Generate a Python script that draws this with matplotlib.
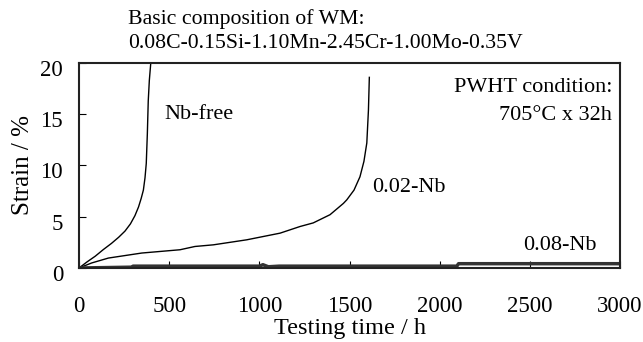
import numpy as np
import matplotlib.pyplot as plt
import matplotlib.transforms as mtransforms

# ----------------------------------------------------
# Creep curves of weld metal (WM)
# ----------------------------------------------------

plt.rcParams['font.family'] = ['Liberation Serif', 'DejaVu Serif']

# Nb-free
t_free = [0, 45, 90, 135, 180, 220, 255, 285, 310, 330, 345, 357, 366, 373,
          379, 384, 390, 398, 402]
s_free = [0, 0.6, 1.15, 1.8, 2.4, 3.0, 3.6, 4.3, 5.1, 5.95, 6.8, 7.6, 8.8,
          10.2, 13.1, 16.3, 18.3, 20.0, 21.0]

# 0.02-Nb
t_02 = [0, 70, 163, 348, 560, 643, 745, 930, 1115, 1226, 1299, 1392, 1466,
        1485, 1525, 1558, 1580, 1596, 1605, 1610]
s_02 = [0, 0.49, 0.97, 1.46, 1.78, 2.1, 2.26, 2.75, 3.4, 4.05, 4.4, 5.2,
        6.3, 6.65, 7.6, 8.9, 10.4, 12.2, 15.4, 18.6]

# 0.08-Nb
t_08 = [0, 290, 300, 1000, 1020, 1050, 1110, 2095, 2105, 3000]
s_08 = [0, 0.08, 0.18, 0.18, 0.32, 0.12, 0.18, 0.18, 0.42, 0.42]

# ----------------------------------------------------
# Plot
# ----------------------------------------------------

fig = plt.figure(figsize=(6.43, 3.42), dpi=100)
ax = fig.add_axes([79 / 643, 74 / 342, 541 / 643, 205 / 342])

ax.plot(t_free, s_free, color="black", linewidth=1.0)
ax.plot(t_02, s_02, color="black", linewidth=1.0)
ax.plot(t_08, s_08, color="#333333", linewidth=2.5)

ax.set_xlim(0, 3000)
ax.set_ylim(0, 20)
ax.set_xticks([0, 500, 1000, 1500, 2000, 2500, 3000])
ax.set_yticks([0, 5, 10, 15, 20])

ax.tick_params(axis="x", direction="in", length=5, pad=20, labelsize=16.5)
ax.tick_params(axis="y", direction="in", length=5, pad=11.5, labelsize=16.5)

# y tick labels sit a little below their ticks
shift = mtransforms.ScaledTranslation(0, -5 / 100, fig.dpi_scale_trans)
for lab in ax.get_yticklabels():
    lab.set_transform(lab.get_transform() + shift)

for sp in ax.spines.values():
    sp.set_linewidth(1.5)
    sp.set_color("#222222")

ax.set_xlabel("Testing time / h", fontsize=17.5)
ax.xaxis.set_label_coords(0.5, -0.245)
ax.set_ylabel("Strain / %", fontsize=18)
ax.yaxis.set_label_coords(-0.083, 0.5)

# annotations
fig.text(128 / 643, 1 - 19 / 342, "Basic composition of WM:",
         fontsize=15.7, ha="left", va="center")
fig.text(128 / 643, 1 - 44 / 342, "0.08C-0.15Si-1.10Mn-2.45Cr-1.00Mo-0.35V",
         fontsize=15.7, ha="left", va="center")

ax.text(2956, 17.6, "PWHT condition:", fontsize=16, ha="right", va="center")
ax.text(2956, 14.85, "705°C x 32h", fontsize=16, ha="right", va="center")

ax.text(471, 15.0, "Nb-free", fontsize=16, ha="left", va="center")
ax.text(1624, 7.9, "0.02-Nb", fontsize=16, ha="left", va="center")
ax.text(2463, 2.2, "0.08-Nb", fontsize=16, ha="left", va="center")

plt.savefig("out.png", dpi=100)
